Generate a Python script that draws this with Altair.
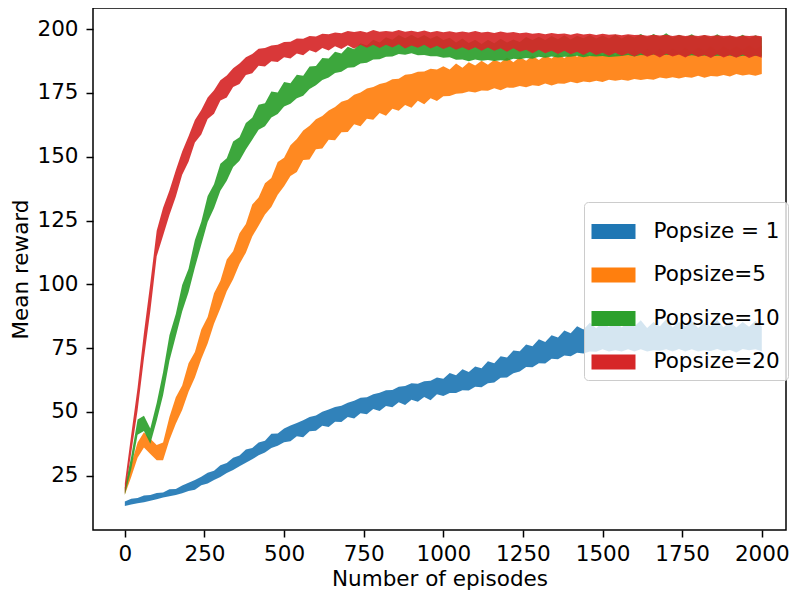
import altair as alt
import pandas as pd

EPISODES = list(range(0, 2001, 20))
SERIES = ["Popsize = 1", "Popsize=5", "Popsize=10", "Popsize=20"]
COLORS = ["#1f77b4", "#ff7f0e", "#2ca02c", "#d62728"]
X_TICKS = [0, 250, 500, 750, 1000, 1250, 1500, 1750, 2000]
Y_TICKS = [25, 50, 75, 100, 125, 150, 175, 200]

# mean reward, every 20 episodes (0 .. 2000)
BLUE_MEAN = [
    14.0, 14.8, 15.2, 15.9, 16.3, 17.0, 17.4, 18.3, 18.6, 19.6,
    20.6, 21.4, 22.9, 24.0, 25.1, 26.8, 28.0, 29.6, 30.8, 32.7,
    33.6, 35.5, 36.4, 38.6, 39.1, 40.8, 41.6, 43.0, 43.4, 45.2,
    45.6, 47.3, 47.5, 49.0, 49.2, 50.8, 50.9, 52.5, 52.4, 54.0,
    53.9, 55.4, 55.2, 56.8, 56.4, 58.0, 57.5, 58.9, 58.4, 60.2,
    59.6, 61.3, 60.9, 62.6, 62.0, 63.8, 63.4, 65.5, 65.3, 67.6,
    67.4, 69.6, 69.8, 72.0, 71.6, 73.8, 73.2, 75.4, 74.9, 77.0,
    76.3, 78.4, 77.6, 79.3, 78.2, 79.8, 78.5, 80.0, 78.4, 79.9,
    78.6, 80.2, 78.3, 79.7, 78.8, 80.4, 78.4, 79.9, 78.6, 80.1,
    78.3, 79.6, 78.7, 80.3, 78.5, 79.8, 78.2, 79.9, 78.8, 80.1,
    78.6,
]
BLUE_SPREAD = [
    0.9, 1.1, 1.0, 1.3, 1.1, 1.2, 1.0, 1.4, 1.2, 1.5,
    1.6, 1.9, 1.7, 2.1, 1.8, 2.3, 2.0, 2.4, 2.1, 2.6,
    2.2, 2.5, 2.3, 2.8, 2.4, 2.7, 3.1, 2.6, 3.3, 2.8,
    3.0, 2.7, 3.4, 2.9, 3.2, 2.8, 3.5, 3.0, 3.3, 2.9,
    3.6, 3.1, 3.4, 3.0, 3.7, 3.2, 3.5, 3.1, 3.8, 3.3,
    3.4, 3.9, 3.5, 4.1, 3.6, 4.0, 3.7, 4.3, 3.8, 4.2,
    3.9, 4.5, 4.0, 4.4, 4.1, 4.7, 4.2, 4.6, 4.3, 4.9,
    4.5, 5.2, 4.7, 5.6, 4.6, 5.3, 4.8, 5.8, 4.7, 5.4,
    4.9, 5.7, 4.6, 5.5, 4.8, 5.9, 4.7, 5.3, 4.9, 5.6,
    4.6, 5.4, 4.8, 5.7, 4.7, 5.5, 4.9, 5.3, 4.6, 5.6,
    4.8,
]
ORANGE_MEAN = [
    19.0, 27.0, 35.0, 39.0, 36.5, 34.0, 34.5, 43.5, 50.5, 55.5,
    63.5, 68.5, 76.5, 82.0, 90.5, 96.0, 103.5, 107.5, 114.0, 118.0,
    125.0, 128.5, 133.5, 136.0, 141.5, 144.0, 148.5, 150.5, 154.5, 155.5,
    158.8, 159.6, 162.4, 163.0, 165.6, 166.0, 168.5, 168.6, 170.8, 170.9,
    172.8, 172.6, 174.6, 174.3, 176.2, 175.8, 177.6, 177.0, 178.7, 178.0,
    179.6, 179.0, 180.6, 179.9, 181.3, 180.5, 181.8, 181.0, 182.4, 181.5,
    183.0, 182.0, 183.4, 182.4, 183.8, 182.8, 184.2, 183.2, 184.6, 183.6,
    185.0, 184.0, 185.3, 184.3, 185.5, 184.6, 185.8, 184.8, 186.0, 185.0,
    186.2, 185.2, 186.4, 185.5, 186.7, 185.7, 186.9, 185.9, 187.1, 186.1,
    187.3, 186.3, 187.5, 186.5, 187.7, 186.7, 187.9, 186.9, 188.0, 187.0,
    188.0,
]
ORANGE_SPREAD = [
    1.5, 2.5, 3.0, 3.0, 3.0, 3.0, 3.5, 4.5, 5.2, 4.8,
    5.6, 5.0, 5.8, 5.2, 6.0, 5.4, 6.2, 5.5, 6.0, 5.6,
    6.3, 5.5, 6.1, 5.7, 6.4, 5.6, 6.0, 6.5, 5.8, 6.6,
    5.9, 6.4, 5.7, 6.5, 6.0, 6.3, 5.8, 6.6, 5.9, 6.4,
    5.7, 6.5, 5.8, 6.3, 5.9, 6.6, 5.7, 6.4, 5.8, 6.2,
    5.9, 5.2, 5.9, 5.0, 5.7, 5.3, 5.8, 5.1, 5.6, 5.4,
    5.9, 5.0, 5.7, 5.2, 5.8, 5.1, 5.5, 5.3, 5.9, 5.0,
    5.6, 5.2, 5.8, 5.1, 5.7, 5.3, 5.6, 5.0, 5.8, 5.2,
    5.7, 5.1, 5.9, 5.3, 5.6, 5.0, 5.7, 5.2, 5.8, 5.1,
    5.6, 5.3, 5.9, 5.0, 5.7, 5.2, 5.5, 5.1, 5.8, 5.3,
    5.6,
]
GREEN_MEAN = [
    19.0, 30.0, 44.0, 45.5, 40.5, 50.0, 61.0, 75.0, 84.0, 94.5,
    101.5, 112.0, 120.0, 129.5, 134.5, 142.0, 145.0, 151.0, 153.0, 158.0,
    161.0, 165.5, 166.5, 170.5, 171.0, 174.5, 174.8, 177.5, 177.8, 181.0,
    181.8, 184.4, 184.8, 187.0, 186.9, 189.0, 188.6, 190.5, 190.2, 192.0,
    191.5, 193.0, 192.6, 194.0, 193.2, 194.2, 193.1, 193.8, 192.8, 193.4,
    192.3, 192.8, 191.4, 192.2, 191.0, 192.0, 190.9, 191.9, 191.0, 192.0,
    191.2, 192.2, 191.6, 192.8, 192.1, 193.1, 192.3, 193.3, 192.5, 193.4,
    192.6, 193.5, 192.7, 193.6, 192.8, 193.5, 192.7, 193.6, 192.9, 193.8,
    193.0, 194.0, 193.2, 194.1, 193.3, 194.2, 193.2, 194.0, 193.1, 193.9,
    193.0, 193.7, 192.9, 193.8, 193.0, 193.6, 192.8, 193.7, 192.9, 193.6,
    193.0,
]
GREEN_SPREAD = [
    1.5, 2.5, 3.0, 3.0, 3.0, 3.5, 4.5, 5.0, 4.4, 5.2,
    4.6, 5.4, 4.5, 5.1, 4.7, 5.3, 4.4, 5.0, 4.6, 5.2,
    4.3, 4.9, 4.5, 5.1, 4.2, 4.8, 4.0, 4.6, 3.9, 4.4,
    3.8, 4.3, 3.7, 4.2, 3.6, 4.1, 3.5, 4.0, 3.4, 3.9,
    3.3, 3.8, 3.3, 3.7, 3.2, 3.6, 3.3, 3.9, 3.4, 4.0,
    3.5, 3.8, 3.4, 4.1, 3.6, 3.9, 3.3, 4.0, 3.5, 4.2,
    3.6, 3.8, 3.4, 4.1, 3.7, 3.9, 3.5, 4.0, 3.6, 4.2,
    3.4, 3.9, 3.7, 4.1, 3.5, 4.0, 3.6, 4.3, 3.4, 3.9,
    3.7, 4.1, 3.5, 4.0, 3.6, 4.2, 3.4, 3.8, 3.7, 4.1,
    3.5, 4.0, 3.6, 4.2, 3.5, 3.9, 3.7, 4.1, 3.4, 4.0,
    3.6,
]
RED_MEAN = [
    20.0, 37.5, 55.0, 76.0, 95.0, 116.0, 124.5, 132.0, 139.5, 147.5,
    153.0, 160.0, 163.5, 169.0, 171.5, 176.0, 177.5, 181.0, 182.5, 185.5,
    186.5, 189.0, 189.0, 190.5, 190.5, 192.0, 191.8, 193.4, 193.0, 194.5,
    194.0, 195.4, 194.8, 196.0, 195.3, 196.5, 195.6, 196.6, 195.7, 196.8,
    195.8, 196.6, 195.9, 196.9, 195.7, 196.5, 195.8, 196.7, 195.6, 196.4,
    195.5, 196.2, 195.3, 196.0, 195.2, 196.1, 195.1, 195.9, 195.0, 195.8,
    194.9, 195.7, 194.8, 195.3, 194.4, 195.2, 194.3, 195.0, 194.2, 194.9,
    194.0, 194.8, 193.9, 194.7, 193.8, 194.5, 193.7, 194.4, 193.6, 194.3,
    193.5, 194.2, 193.3, 194.0, 193.2, 194.1, 193.3, 193.9, 193.1, 194.0,
    193.2, 193.8, 193.0, 193.9, 193.1, 193.7, 192.9, 193.8, 193.0, 193.6,
    193.0,
]
RED_SPREAD = [
    2.0, 3.5, 4.5, 5.0, 5.5, 5.0, 5.5, 4.8, 5.2, 4.6,
    5.0, 4.4, 4.8, 4.2, 4.6, 4.0, 4.3, 3.7, 4.0, 3.5,
    3.8, 3.3, 3.6, 3.1, 3.4, 3.0, 3.3, 2.9, 3.2, 2.8,
    3.1, 2.8, 3.2, 2.7, 3.1, 2.8, 3.3, 2.7, 3.0, 2.9,
    3.2, 2.7, 3.1, 2.8, 3.3, 2.9, 3.1, 2.8, 3.2, 2.9,
    3.3, 3.0, 3.4, 3.1, 3.5, 3.2, 3.6, 3.1, 3.5, 3.3,
    3.7, 3.2, 3.6, 3.4, 3.8, 3.3, 3.7, 3.5, 3.9, 3.4,
    3.8, 3.6, 4.0, 3.5, 3.9, 3.7, 4.1, 3.6, 4.0, 3.7,
    4.2, 3.6, 4.1, 3.8, 4.3, 3.7, 4.0, 3.8, 4.2, 3.6,
    4.1, 3.9, 4.3, 3.7, 4.2, 3.8, 4.1, 3.7, 4.3, 3.9,
    4.2,
]

MEANS = [BLUE_MEAN, ORANGE_MEAN, GREEN_MEAN, RED_MEAN]
SPREADS = [BLUE_SPREAD, ORANGE_SPREAD, GREEN_SPREAD, RED_SPREAD]

rows = []
for name, mean, spread in zip(SERIES, MEANS, SPREADS):
    assert len(mean) == len(EPISODES) == len(spread), name
    for ep, m, s in zip(EPISODES, mean, spread):
        rows.append({"episode": ep, "series": name, "lo": m - s, "hi": m + s})
df = pd.DataFrame(rows)

FONT = "DejaVu Sans"
FS = 21.5

color = alt.Color(
    "series:N",
    scale=alt.Scale(domain=SERIES, range=COLORS),
    legend=alt.Legend(
        title=None,
        orient="none",
        legendX=491,
        legendY=194,
        symbolType="M-1,-0.34H1V0.34H-1Z",
        symbolSize=1936,
        symbolStrokeWidth=0,
        symbolOpacity=1,
        labelFont=FONT,
        labelFontSize=FS,
        labelColor="black",
        labelOffset=18,
        rowPadding=10.5,
        padding=7.5,
        fillColor="rgba(255,255,255,0.8)",
        strokeColor="#cccccc",
        cornerRadius=4,
    ),
)

x = alt.X(
    "episode:Q",
    scale=alt.Scale(domain=[-100, 2076], nice=False, zero=False),
    axis=alt.Axis(values=X_TICKS, format="d", title="Number of episodes",
                  labelPadding=6, titlePadding=4),
)
y = alt.Y(
    "lo:Q",
    scale=alt.Scale(domain=[3.7, 208.3], nice=False, zero=False),
    axis=alt.Axis(values=Y_TICKS, format="d", title="Mean reward",
                  labelPadding=8, titlePadding=4),
)

layers = []
for name in SERIES:
    layers.append(
        alt.Chart(df)
        .transform_filter(alt.datum.series == name)
        .mark_area(opacity=0.92)
        .encode(x=x, y=y, y2=alt.Y2("hi:Q"), color=color)
    )

chart = (
    alt.layer(*layers)
    .properties(
        width=693,
        height=522,
        padding={"left": 85, "top": 0, "right": 4, "bottom": 63},
        autosize=alt.AutoSizeParams(type="none"),
    )
    .configure_view(stroke="black", strokeWidth=1.5)
    .configure_axis(
        grid=False,
        domain=False,
        labelFont=FONT,
        labelFontSize=FS,
        labelColor="black",
        titleFont=FONT,
        titleFontSize=FS,
        titleColor="black",
        titleFontWeight="normal",
        tickColor="black",
        tickSize=7,
        tickWidth=1.5,
        labelFlush=False,
        labelOverlap=False,
    )
)

chart.save("out.html", embed_options={"renderer": "svg", "actions": False})
